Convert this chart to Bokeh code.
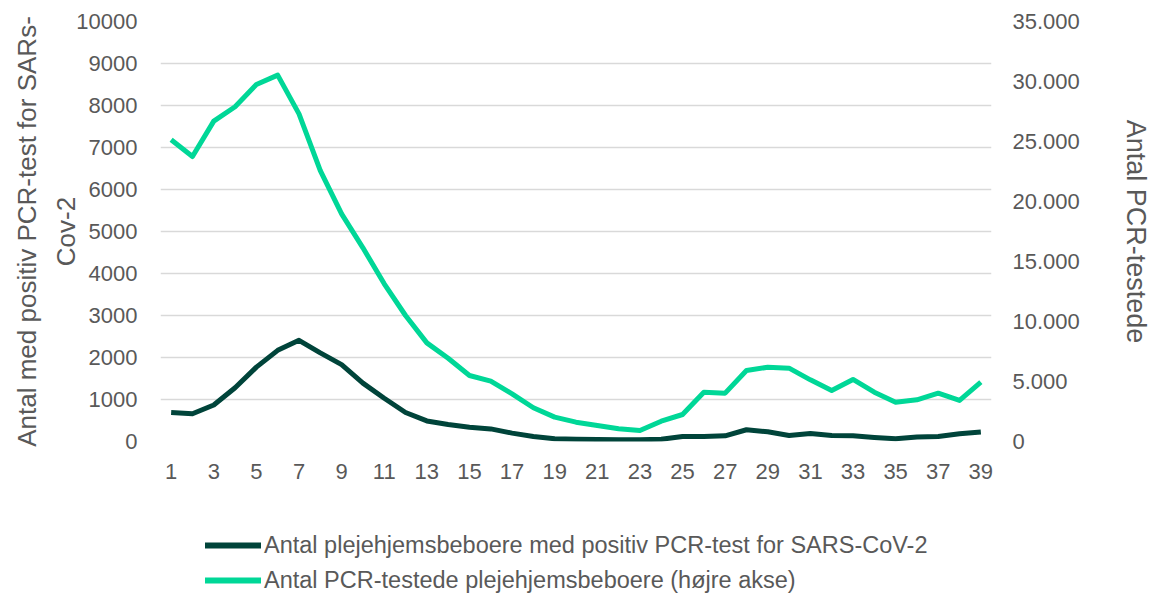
from bokeh.plotting import figure
from bokeh.layouts import column
from bokeh.models import (LinearAxis, Range1d, Legend, LegendItem, FixedTicker,
                          CustomJSTickFormatter)
from bokeh.embed import file_html
from bokeh.resources import INLINE

weeks = list(range(1, 40))
positive = [690, 660, 870, 1280, 1770, 2170, 2410, 2110, 1830, 1390,
            1030, 690, 490, 405, 340, 300, 200, 120, 65, 55,
            50, 40, 40, 55, 120, 120, 135, 280, 230, 145,
            190, 145, 135, 95, 65, 105, 120, 185, 225]
tested = [25140, 23750, 26700, 27900, 29750, 30530, 27300, 22580, 18970, 16140,
          13140, 10500, 8220, 6940, 5500, 5030, 3970, 2810, 2030, 1610,
          1330, 1060, 920, 1690, 2250, 4110, 4030, 5920, 6190, 6110,
          5140, 4250, 5170, 4110, 3280, 3470, 4030, 3420, 4940]
left_ticks = list(range(0, 10001, 1000))
right_ticks = list(range(0, 35001, 5000))
x_ticks = list(range(1, 40, 2))
legend_labels = ["Antal plejehjemsbeboere med positiv PCR-test for SARS-CoV-2",
                 "Antal PCR-testede plejehjemsbeboere (højre akse)"]

DARK = "#00443A"
GREEN = "#00D797"
GREY = "#595959"
FONT = "Liberation Sans"
NAN = float("nan")

p = figure(width=1153, height=490, output_backend="svg", toolbar_location=None,
           x_range=Range1d(0.5, 39.5), y_range=Range1d(0, 10000),
           min_border_left=160, min_border_right=154, min_border_top=21,
           min_border_bottom=49)
p.outline_line_color = None
p.extra_y_ranges = {"right": Range1d(0, 35000)}

p.xgrid.visible = False
p.ygrid.ticker = FixedTicker(ticks=left_ticks)
p.ygrid.grid_line_color = "#D9D9D9"
p.ygrid.grid_line_width = 1.5

for ax in [p.xaxis[0], p.yaxis[0]]:
    ax.axis_line_color = None
    ax.major_tick_line_color = None
    ax.minor_tick_line_color = None
    ax.major_label_text_font = FONT
    ax.major_label_text_font_size = "22px"
    ax.major_label_text_color = GREY

p.xaxis.ticker = FixedTicker(ticks=x_ticks)
p.xaxis.major_label_standoff = 16

p.yaxis.ticker = FixedTicker(ticks=left_ticks)
p.yaxis.major_label_standoff = 17
p.yaxis.axis_label = "Antal med positiv PCR-test for SARs-\nCov-2"
p.yaxis.axis_label_text_font = FONT
p.yaxis.axis_label_text_font_size = "26px"
p.yaxis.axis_label_text_font_style = "normal"
p.yaxis.axis_label_text_color = GREY
p.yaxis.axis_label_text_line_height = 1.3
p.yaxis.axis_label_standoff = -8

ry = LinearAxis(y_range_name="right", ticker=FixedTicker(ticks=right_ticks))
ry.formatter = CustomJSTickFormatter(code="""
return tick.toFixed(0).replace(/\\B(?=(\\d{3})+(?!\\d))/g, ".");
""")
ry.axis_line_color = None
ry.major_tick_line_color = None
ry.minor_tick_line_color = None
ry.major_label_text_font = FONT
ry.major_label_text_font_size = "22px"
ry.major_label_text_color = GREY
ry.major_label_standoff = 15
ry.axis_label = "Antal PCR-testede"
ry.axis_label_text_font = FONT
ry.axis_label_text_font_size = "27px"
ry.axis_label_text_font_style = "normal"
ry.axis_label_text_color = GREY
ry.axis_label_standoff = 38
p.add_layout(ry, "right")

p.line(weeks, positive, line_color=DARK, line_width=5, line_join="round")
p.line(weeks, tested, line_color=GREEN, line_width=5, line_join="round",
       y_range_name="right")

# legend strip below the chart
lg = figure(width=1153, height=105, output_backend="svg", toolbar_location=None,
            x_range=Range1d(0, 1), y_range=Range1d(0, 1),
            min_border_left=0, min_border_right=0, min_border_top=0,
            min_border_bottom=0)
lg.outline_line_color = None
lg.axis.visible = False
lg.grid.visible = False
k1 = lg.line(x=[NAN], y=[NAN], line_color=DARK, line_width=6, line_cap="round")
k2 = lg.line(x=[NAN], y=[NAN], line_color=GREEN, line_width=6, line_cap="round")

legend = Legend(items=[
    LegendItem(label=legend_labels[0], renderers=[k1]),
    LegendItem(label=legend_labels[1], renderers=[k2]),
], location=(45, 1), orientation="vertical")
legend.border_line_color = None
legend.background_fill_alpha = 0
legend.margin = 0
legend.padding = 0
legend.spacing = 7
legend.glyph_width = 56
legend.glyph_height = 28
legend.label_height = 28
legend.label_standoff = 3
legend.label_text_font = FONT
legend.label_text_font_size = "23.5px"
legend.label_text_color = GREY
lg.add_layout(legend, "center")

layout = column(p, lg, spacing=0)
open("out.html", "w").write(file_html(layout, INLINE))
